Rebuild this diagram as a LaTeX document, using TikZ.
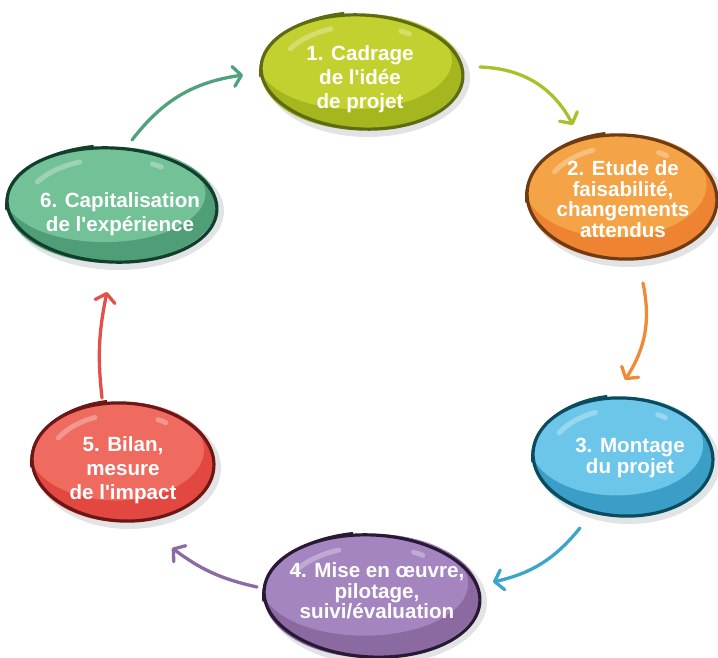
\documentclass[tikz,border=0pt]{standalone}
\usepackage{fontspec}
\setmainfont{Liberation Sans}
\usetikzlibrary{calc,arrows.meta,shapes.geometric}

\definecolor{shadowgrey}{HTML}{E2E3E5}
\definecolor{cadlight}{HTML}{C2D12F}
\definecolor{caddark}{HTML}{A6B61F}
\definecolor{cadline}{HTML}{5D6B12}
\definecolor{cadarrow}{HTML}{A9BF2B}
\definecolor{etulight}{HTML}{F4A446}
\definecolor{etudark}{HTML}{EE8331}
\definecolor{etuline}{HTML}{6E3B12}
\definecolor{etuarrow}{HTML}{EF8A35}
\definecolor{monlight}{HTML}{6CC6EA}
\definecolor{mondark}{HTML}{3A9EC6}
\definecolor{monline}{HTML}{0C4A5E}
\definecolor{monarrow}{HTML}{3AA6CD}
\definecolor{mislight}{HTML}{A585BF}
\definecolor{misdark}{HTML}{8B69A1}
\definecolor{misline}{HTML}{2A1934}
\definecolor{misarrow}{HTML}{8C6AA2}
\definecolor{billight}{HTML}{EF6A5F}
\definecolor{bildark}{HTML}{E2483F}
\definecolor{billine}{HTML}{6C1616}
\definecolor{bilarrow}{HTML}{E35049}
\definecolor{caplight}{HTML}{72C197}
\definecolor{capdark}{HTML}{4F9E77}
\definecolor{capline}{HTML}{123F2C}
\definecolor{caparrow}{HTML}{4FA27C}

\tikzset{
  txt/.style={text=white, align=center, inner sep=0pt,
    font=\bfseries\fontsize{20.6}{24}\selectfont},
  tight/.style={font=\bfseries\fontsize{20.6}{20.5}\selectfont},
  arr/.style={line width=3.3pt, line cap=round,
    -{Straight Barb[length=8pt,width=20pt,round]}}
}

% name, x, y, x radius, y radius, colour prefix
\newcommand{\blob}[6]{%
  \fill[shadowgrey] (#2+6,#3-6) ellipse [x radius=#4+1, y radius=#5+1];
  \node (#1) [ellipse, minimum width=2*#4, minimum height=2*#5,
    inner sep=0pt, outer sep=0pt, fill=#6dark] at (#2,#3) {};
  \begin{scope}
    \clip (#2,#3) ellipse [x radius=#4, y radius=#5];
    \fill[#6light] (#2-0.07*#4,#3+0.2*#5) ellipse [x radius=0.96*#4, y radius=0.84*#5];
  \end{scope}
  % highlights
  \draw[white, opacity=.3, line width=5pt, line cap=round]
    ({#2+0.82*#4*cos(150)},{#3+0.8*#5*sin(150)})
    arc [start angle=150, end angle=112, x radius=0.82*#4, y radius=0.8*#5];
  \draw[white, opacity=.3, line width=5pt, line cap=round]
    ({#2+0.82*#4*cos(62)},{#3+0.8*#5*sin(62)})
    arc [start angle=62, end angle=55, x radius=0.82*#4, y radius=0.8*#5];
  % sketchy outline
  \draw[#6line, line width=3.2pt, rotate around={-3:(#2,#3)}]
    (#2,#3) ellipse [x radius=#4, y radius=#5-1];
  \draw[#6line, line width=2pt]
    ({#2+(#4+1)*cos(100)},{#3+(#5+2)*sin(100)})
    arc [start angle=100, end angle=185, x radius=#4+1, y radius=#5+2];
}

\begin{document}
\begin{tikzpicture}[x=1pt,y=1pt]
    \useasboundingbox (0,0) rectangle (718,657);

    \blob{p1}{362}{585}{101}{58}{cad}
    \blob{p2}{622}{460}{95}{63}{etu}
    \blob{p3}{623}{200}{90}{60}{mon}
    \blob{p4}{372}{61}{108}{62}{mis}
    \blob{p5}{123}{195}{91}{60}{bil}
    \blob{p6}{112}{452}{105}{58}{cap}

    \node (t1) [txt] at (360,578) {1. Cadrage\\de l\textquotesingle idée\\de projet};
    \node (t2) [txt,tight] at (623,458) {2. Etude de\\faisabilité,\\changements\\attendus};
    \node (t3) [txt,tight] at (630,199) {3. Montage\\du projet};
    \node (t4) [txt,tight] at (377,66) {4. Mise en œuvre,\\pilotage,\\suivi/évaluation};
    \node (t5) [txt] at (123,187) {5. Bilan,\\mesure\\de l\textquotesingle impact};
    \node (t6) [txt] at (120,443) {6. Capitalisation\\de l\textquotesingle expérience};

    % cycle
    \draw [arr,cadarrow] ($(p1)+(118,5)$) to[bend left=30] ($(p2)+(-49,72)$);
    \draw [arr,etuarrow] ($(p2)+(21,-86)$) to[bend left=22] ($(p3)+(2,77)$);
    \draw [arr,monarrow] ($(p3)+(-43,-71)$) to[bend left=19] ($(p4)+(121,14)$);
    \draw [arr,misarrow] ($(p4)+(-115,9)$) to[bend left=12] ($(p5)+(49,-86)$);
    \draw [arr,bilarrow] ($(p5)+(-21,64)$) to[bend left=9] ($(p6)+(-5,-87)$);
    \draw [arr,caparrow] ($(p6)+(20,65)$) to[bend left=22] ($(p1)+(-119,-3)$);

\end{tikzpicture}
\end{document}
